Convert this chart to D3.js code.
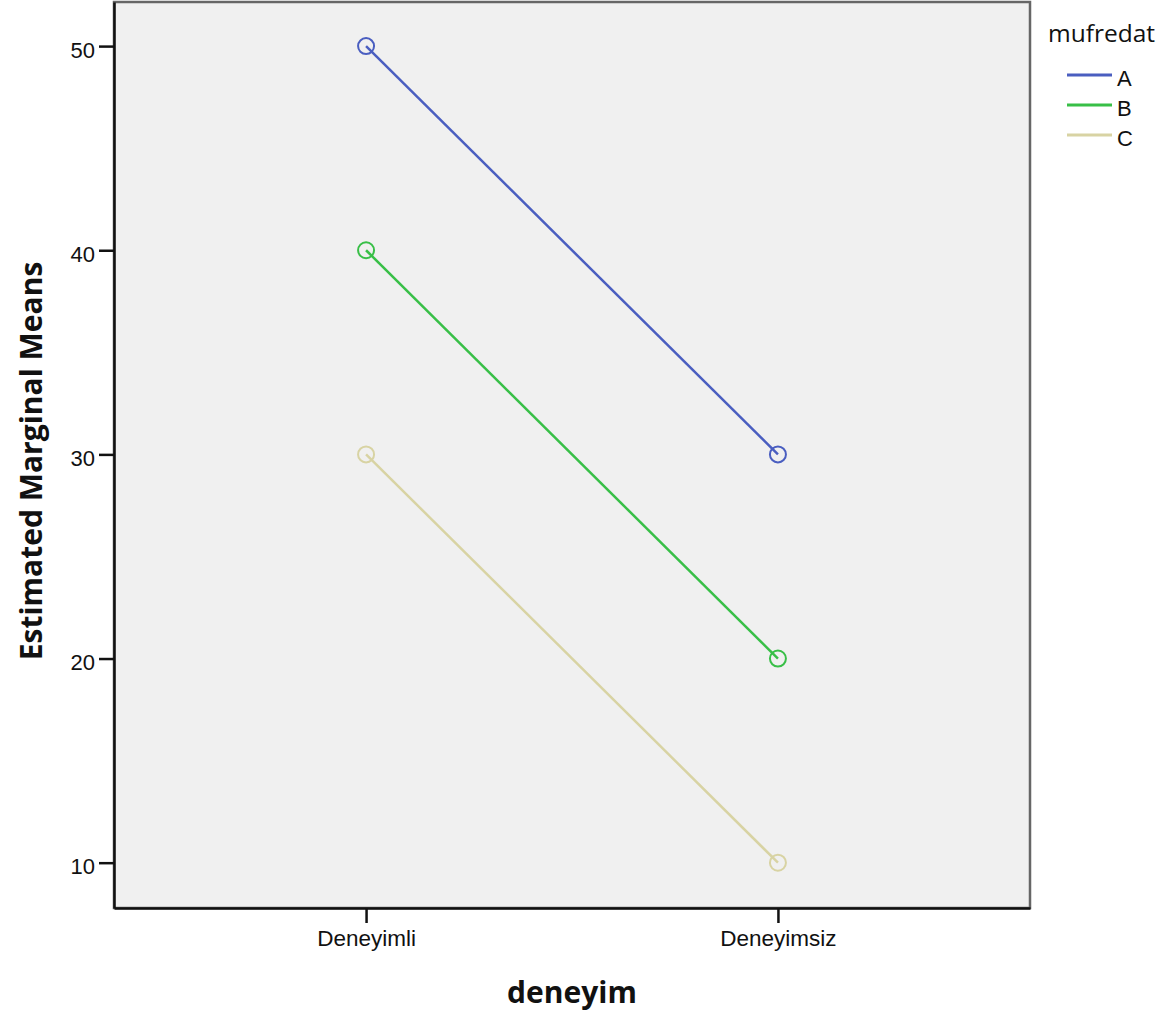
<!DOCTYPE html>
<html>
<head>
<meta charset="utf-8">
<script src="https://cdn.jsdelivr.net/npm/d3@7"></script>
<style>
  body { margin: 0; background: #fff; }
  text { font-family: "Liberation Sans", Arial, sans-serif; fill: #111; }
  .title { font-family: "Open Sans", sans-serif; font-weight: bold; }
</style>
</head>
<body>
<svg id="chart" width="1167" height="1017"></svg>
<script>
// data
var categories = ['Deneyimli', 'Deneyimsiz'];
var groups = ['A', 'B', 'C'];
var meansA = [50, 30];
var meansB = [40, 20];
var meansC = [30, 10];
var yTicks = [10, 20, 30, 40, 50];
var colors = ['#4a5ec0', '#38bf47', '#d8d3a3'];

var series = [meansA, meansB, meansC].map(function(v, i) {
  return { name: groups[i], color: colors[i], values: v };
});

var svg = d3.select('#chart');
var plotL = 114, plotR = 1030, plotT = 2, plotB = 908;

var x = d3.scalePoint().domain(categories).range([plotL, plotR]).padding(0.612);
var y = d3.scaleLinear().domain([7.78, 52.16]).range([plotB, plotT]);

// plot background, top/right frame in grey
svg.append('rect')
  .attr('x', plotL).attr('y', plotT)
  .attr('width', plotR - plotL).attr('height', plotB - plotT)
  .attr('fill', '#f0f0f0')
  .attr('stroke', '#666').attr('stroke-width', 2.5);

// y axis
var yAxis = svg.append('g')
  .attr('transform', 'translate(' + plotL + ',0)')
  .call(d3.axisLeft(y).tickValues(yTicks).tickSizeInner(15).tickSizeOuter(0).tickPadding(4).tickFormat(d3.format('d')));
yAxis.select('.domain').attr('stroke', '#111').attr('stroke-width', 2.5);
yAxis.selectAll('.tick line').attr('stroke', '#111').attr('stroke-width', 2.5);
yAxis.selectAll('.tick text').style('font-size', '22px').attr('fill', '#111').attr('dy', '0.5em');

// x axis
var xAxis = svg.append('g')
  .attr('transform', 'translate(0,' + plotB + ')')
  .call(d3.axisBottom(x).tickSizeInner(15).tickSizeOuter(0).tickPadding(7));
xAxis.select('.domain').attr('stroke', '#111').attr('stroke-width', 2.5);
xAxis.selectAll('.tick line').attr('stroke', '#111').attr('stroke-width', 2.5);
xAxis.selectAll('.tick text').style('font-size', '22.5px').attr('fill', '#111');

// lines + markers
var line = d3.line()
  .x(function(d, i) { return x(categories[i]); })
  .y(function(d) { return y(d); });

series.forEach(function(s) {
  svg.append('path')
    .datum(s.values)
    .attr('d', line)
    .attr('fill', 'none')
    .attr('stroke', s.color)
    .attr('stroke-width', 2.5);
  svg.selectAll(null)
    .data(s.values)
    .enter().append('circle')
    .attr('cx', function(d, i) { return x(categories[i]); })
    .attr('cy', function(d) { return y(d); })
    .attr('r', 8)
    .attr('fill', 'none')
    .attr('stroke', s.color)
    .attr('stroke-width', 2);
});

// axis titles
svg.append('text')
  .attr('class', 'title')
  .attr('x', 572).attr('y', 1003)
  .attr('text-anchor', 'middle')
  .style('font-size', '30px')
  .text('deneyim');

svg.append('text')
  .attr('class', 'title')
  .attr('transform', 'translate(42,461) rotate(-90)')
  .attr('text-anchor', 'middle')
  .style('font-size', '30px')
  .text('Estimated Marginal Means');

// legend
var legend = svg.append('g');
legend.append('text')
  .attr('x', 1048).attr('y', 42)
  .style('font-family', '"Open Sans", sans-serif')
  .style('font-size', '24.5px')
  .text('mufredat');
var items = legend.selectAll('g.item')
  .data(series)
  .enter().append('g')
  .attr('transform', function(d, i) { return 'translate(0,' + (75 + i * 30) + ')'; });
items.append('line')
  .attr('x1', 1067).attr('x2', 1112)
  .attr('stroke', function(d) { return d.color; })
  .attr('stroke-width', 3);
items.append('text')
  .attr('x', 1117).attr('y', 11)
  .style('font-size', '22px')
  .text(function(d) { return d.name; });
</script>
</body>
</html>
